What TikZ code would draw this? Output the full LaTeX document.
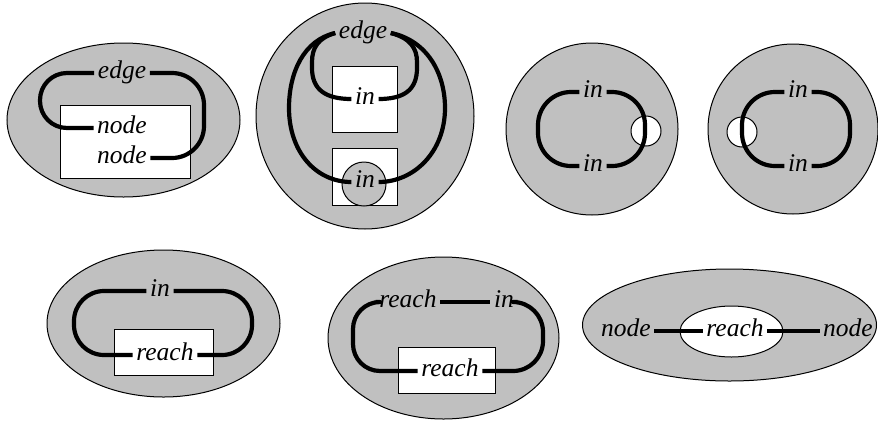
\documentclass[tikz,border=0pt]{standalone}
\usepackage{fontspec}
\setmainfont{Liberation Serif}
\newfontfamily\lblfont{Liberation Serif}
\definecolor{regiongray}{RGB}{192,192,192}
\tikzset{
  region/.style={draw=black, line width=1pt, fill=regiongray},
  hole/.style={draw=black, line width=1pt, fill=white},
  lbl/.style={font=\lblfont\itshape\fontsize{25.5}{29}\selectfont, inner xsep=3.5pt,
              inner ysep=0pt, text height=10pt, text depth=0pt},
  wire/.style={line width=4.2pt, line join=round},
}
\begin{document}
\begin{tikzpicture}[x=1pt,y=-1pt]
\useasboundingbox (0,0) rectangle (878,421);

% --- edge looping from node to node
\draw[region] (123.5,120) ellipse [x radius=116.5, y radius=77];
\draw[hole] (60,105) rectangle (190,178);
\node[lbl] (e1)  at (122,73)  {edge};
\node[lbl] (n1a) at (122,128) {node};
\node[lbl] (n1b) at (122,158) {node};
\draw[wire, rounded corners=27pt] (e1.west) -- (40,73) -- (40,128) -- (n1a.west);
\draw[wire, rounded corners=32pt] (e1.east) -- (204,73) -- (204,158) -- (n1b.east);

% --- edge with two nested in-loops
\draw[region] (365,116) ellipse [x radius=109, y radius=113];
\draw[hole] (332,66) rectangle (397,132);
\draw[hole] (332,148) rectangle (397,205);
\draw[region] (364,184) circle (22);
\node[lbl] (e2)  at (363,33)  {edge};
\node[lbl] (i2a) at (365,99)  {in};
\node[lbl] (i2b) at (365,182) {in};
\draw[wire] (e2.west) .. controls (318,38) and (312,48) .. (312,62) -- (312,68)
            .. controls (312,90) and (326,99) .. (i2a.west);
\draw[wire] (e2.east) .. controls (410,38) and (417,48) .. (417,62) -- (417,68)
            .. controls (417,90) and (404,99) .. (i2a.east);
\draw[wire] (e2.west) .. controls (304,40) and (289,72) .. (289,108)
            .. controls (289,152) and (316,182) .. (i2b.west);
\draw[wire] (e2.east) .. controls (426,40) and (445,72) .. (445,108)
            .. controls (445,152) and (414,182) .. (i2b.east);

% --- in-loop through a hole on the right
\draw[region] (592,129) circle (86);
\draw[hole] (646,131) circle (15);
\node[lbl] (i3a) at (593,92)  {in};
\node[lbl] (i3b) at (593,166) {in};
\draw[wire, rounded corners=33pt] (i3a.west) -- (538,92) -- (538,166) -- (i3b.west);
\draw[wire, rounded corners=33pt] (i3a.east) -- (645,92) -- (645,166) -- (i3b.east);

% --- in-loop through a hole on the left
\draw[region] (793,129) circle (85);
\draw[hole] (742,132) circle (15);
\node[lbl] (i4a) at (798,92)  {in};
\node[lbl] (i4b) at (798,166) {in};
\draw[wire, rounded corners=33pt] (i4a.west) -- (742,92) -- (742,166) -- (i4b.west);
\draw[wire, rounded corners=33pt] (i4a.east) -- (850,92) -- (850,166) -- (i4b.east);

% --- in-loop around reach
\draw[region] (163.5,323.5) ellipse [x radius=116.5, y radius=73.5];
\draw[hole] (114,329) rectangle (213,375);
\node[lbl] (i5) at (160,291) {in};
\node[lbl] (r5) at (165,355) {reach};
\draw[wire, rounded corners=30pt] (i5.west) -- (74,291) -- (74,355) -- (r5.west);
\draw[wire, rounded corners=30pt] (i5.east) -- (252,291) -- (252,355) -- (r5.east);

% --- reach and in around reach
\draw[region] (443.5,338) ellipse [x radius=115.5, y radius=81];
\draw[hole] (398,347) rectangle (495,393);
\node[lbl] (r6a) at (408,302) {reach};
\node[lbl] (i6)  at (504,302) {in};
\node[lbl] (r6b) at (450,371) {reach};
\draw[wire] (r6a.east) -- (i6.west);
\draw[wire, rounded corners=27pt] (r6a.west) -- (353,302) -- (353,371) -- (r6b.west);
\draw[wire, rounded corners=30pt] (i6.east) -- (543,302) -- (543,371) -- (r6b.east);

% --- node, reach, node in a row
\draw[region] (729.5,325) ellipse [x radius=147, y radius=56];
\draw[hole] (731.5,331.5) ellipse [x radius=51.5, y radius=25.5];
\node[lbl] (n7a) at (626,331) {node};
\node[lbl] (r7)  at (735,331) {reach};
\node[lbl] (n7b) at (848,331) {node};
\draw[wire] (n7a.east) -- (r7.west);
\draw[wire] (r7.east) -- (n7b.west);
\end{tikzpicture}
\end{document}
